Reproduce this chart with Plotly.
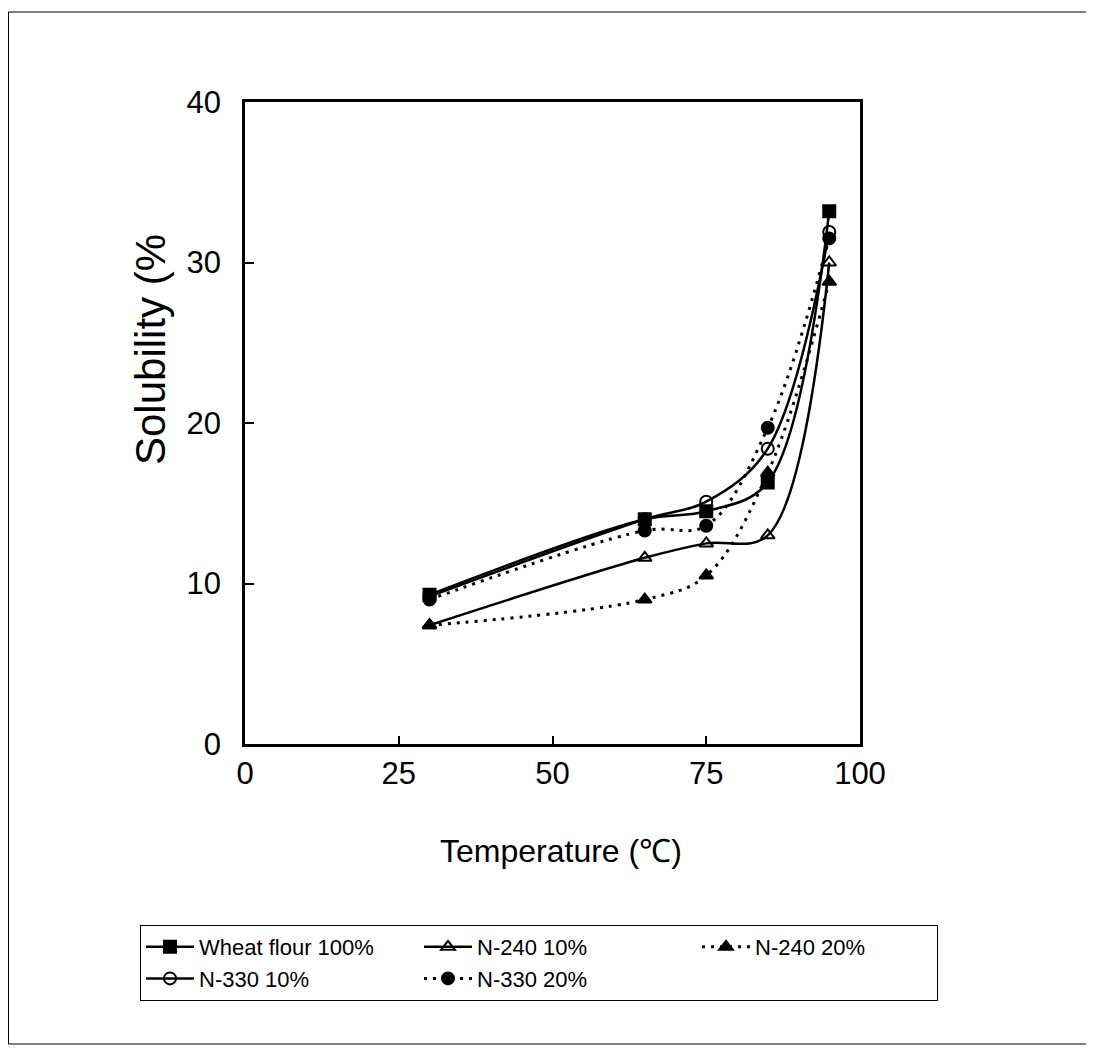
import plotly.graph_objects as go

temperature = [30, 65, 75, 85, 95]
wheat_flour_100 = [9.3, 14.0, 14.5, 16.3, 33.2]
n240_10 = [7.4, 11.6, 12.5, 13.0, 30.0]
n240_20 = [7.4, 9.0, 10.5, 16.9, 28.8]
n330_10 = [9.2, 14.0, 15.1, 18.4, 31.9]
n330_20 = [9.0, 13.3, 13.6, 19.7, 31.5]

x_ticks = [0, 25, 50, 75, 100]
y_ticks = [0, 10, 20, 30, 40]

FONT = "Arial, Liberation Sans, sans-serif"

series = [
    ("Wheat flour 100%", wheat_flour_100, "solid", "square", 215),
    ("N-240 10%", n240_10, "solid", "triangle-up-open", 215),
    ("N-240 20%", n240_20, "3px,6px", "triangle-up", 177),
    ("N-330 10%", n330_10, "solid", "circle-open", 215),
    ("N-330 20%", n330_20, "3px,6px", "circle", 215),
]

fig = go.Figure()
for name, vals, dash, sym, lw in series:
    fig.add_trace(go.Scatter(
        x=temperature, y=vals, name=name, mode="lines+markers",
        line=dict(color="black", width=2.5 if dash == "solid" else 3, dash=dash,
                  shape="spline", smoothing=1.0),
        marker=dict(symbol=sym, size=12, color="black",
                    line=dict(color="black", width=2)),
        legendwidth=lw,
    ))

# The page places the figure 8px from the window's top-left corner.
OFF = 8
W, H = 1094, 1048
PL, PR, PT, PB = 245, 860, 102, 744  # plot area in window pixels
L = PL - OFF
R = W - (PR - OFF)
T = PT - OFF
B = H - (PB - OFF)
pw, ph = PR - PL, PB - PT


def px_x(p):
    return (p - PL) / pw


def px_y(p):
    return (PB - p) / ph


fig.update_layout(
    width=W, height=H,
    margin=dict(l=L, r=R, t=T, b=B),
    paper_bgcolor="white", plot_bgcolor="white",
    font=dict(family=FONT, color="black"),
    showlegend=True,
    legend=dict(
        orientation="h", x=px_x(140), y=px_y(925), xanchor="left", yanchor="top",
        bordercolor="black", borderwidth=1, bgcolor="white",
        font=dict(size=22, family=FONT), itemwidth=48,
        traceorder="normal", tracegroupgap=0,
    ),
    xaxis=dict(
        range=[0, 100], tickvals=x_ticks, ticktext=[str(v) for v in x_ticks],
        ticks="inside", ticklen=8, tickwidth=1.5, tickcolor="black",
        showline=True, linecolor="black", linewidth=2.5, mirror=True,
        showgrid=False, zeroline=False,
        tickfont=dict(size=31, family=FONT), ticklabelstandoff=0,
    ),
    yaxis=dict(
        range=[0, 40], tickvals=y_ticks, ticktext=[str(v) for v in y_ticks],
        ticks="inside", ticklen=9, tickwidth=1.5, tickcolor="black",
        showline=True, linecolor="black", linewidth=2.5, mirror=True,
        showgrid=False, zeroline=False,
        tickfont=dict(size=31, family=FONT), ticklabelstandoff=15,
    ),
    annotations=[
        dict(text="Temperature (\u2103)", xref="paper", yref="paper",
             x=px_x(561), y=px_y(851), xanchor="center", yanchor="middle",
             showarrow=False, font=dict(size=32, family=FONT)),
        dict(text="Solubility (%", xref="paper", yref="paper",
             x=px_x(150), y=px_y(350), xanchor="center", yanchor="middle",
             textangle=-90, showarrow=False, font=dict(size=42, family=FONT)),
    ],
    shapes=[
        dict(type="rect", xref="paper", yref="paper",
             x0=px_x(8.5), x1=px_x(1091), y0=px_y(1044), y1=px_y(12),
             line=dict(color="black", width=1), layer="below"),
    ],
)

fig.write_html("out.html")
